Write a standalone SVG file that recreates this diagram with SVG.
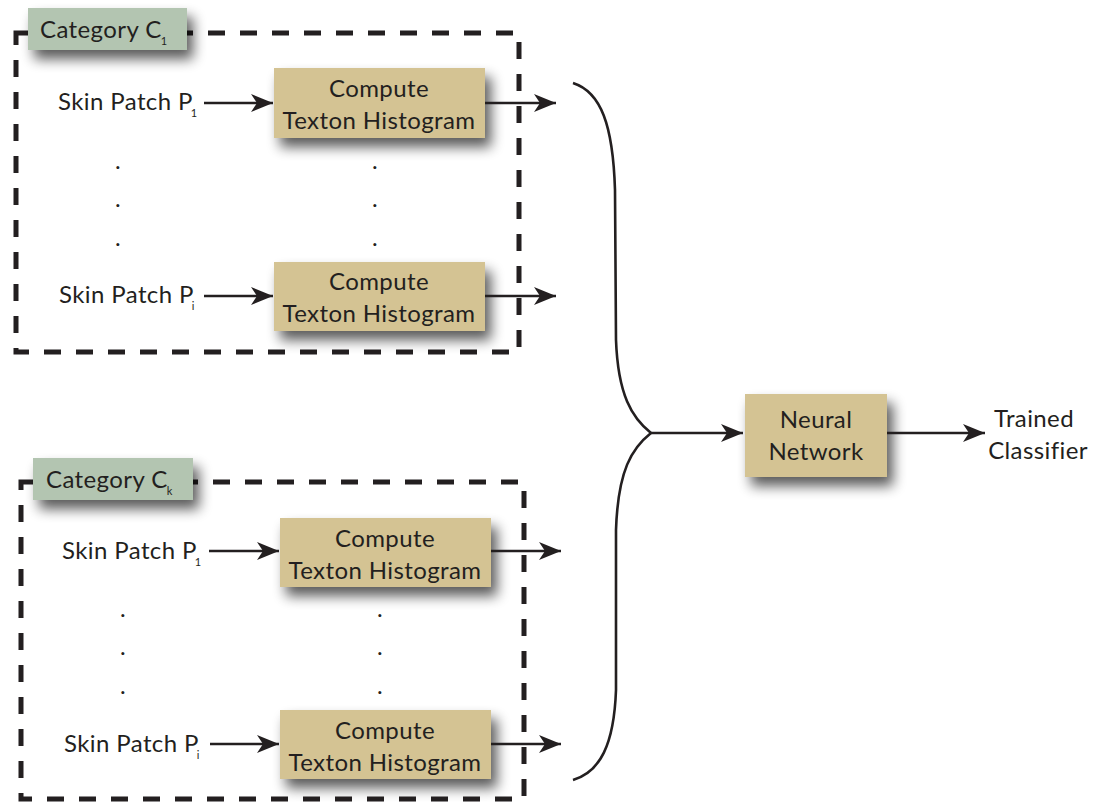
<svg xmlns="http://www.w3.org/2000/svg" width="1094" height="803" viewBox="0 0 1094 803">
  <style>
    text { font-family: Lato, "Open Sans", "Liberation Sans", sans-serif; fill: #231f20; font-size: 24px; letter-spacing: 0.4px; }
    .mid { text-anchor: middle; }
    .sub { font-size: 11px; letter-spacing: 0; }
    .box { fill: #d4c393; }
    .tag { fill: #b3c5b1; }
    .group { fill: none; stroke: #231f20; stroke-width: 5; stroke-dasharray: 17 15; }
    .wire { fill: none; stroke: #231f20; stroke-width: 2.6; }
  </style>
  <defs>
    <filter id="shadow" x="-30%" y="-40%" width="170%" height="200%">
      <feGaussianBlur in="SourceAlpha" stdDeviation="6.5"/>
      <feOffset dx="6" dy="9" result="b"/>
      <feComponentTransfer><feFuncA type="linear" slope="0.65"/></feComponentTransfer>
      <feMerge><feMergeNode/><feMergeNode in="SourceGraphic"/></feMerge>
    </filter>
    <marker id="head" markerWidth="24" markerHeight="20" refX="22" refY="9" orient="auto" markerUnits="userSpaceOnUse">
      <path d="M0,0 L22,9 L0,18 L6,9 Z" fill="#231f20"/>
    </marker>
  </defs>

  <rect width="1094" height="803" fill="#ffffff"/>

  <!-- category groups (dashed frames) -->
  <rect class="group" x="16" y="33" width="503" height="319"/>
  <rect class="group" x="21" y="482" width="503" height="317"/>

  <!-- category C1 -->
  <g id="category-c1">
    <rect class="tag" x="28" y="8" width="159" height="42" filter="url(#shadow)"/>
    <text x="40" y="38">Category C<tspan class="sub" dx="-1" dy="7">1</tspan></text>
  </g>

  <g id="c1-patch-1">
    <text x="58" y="110">Skin Patch P<tspan class="sub" dx="-2" dy="7">1</tspan></text>
  </g>
  <g id="c1-hist-1">
    <rect class="box" x="274" y="68" width="211" height="70" filter="url(#shadow)"/>
    <text class="mid" x="379" y="97">Compute</text>
    <text class="mid" x="379" y="129">Texton Histogram</text>
  </g>

  <g id="c1-dots">
    <text class="mid" x="118" y="169">.</text>
    <text class="mid" x="118" y="207">.</text>
    <text class="mid" x="118" y="246">.</text>
    <text class="mid" x="375" y="169">.</text>
    <text class="mid" x="375" y="207">.</text>
    <text class="mid" x="375" y="246">.</text>
  </g>

  <g id="c1-patch-i">
    <text x="59" y="303">Skin Patch P<tspan class="sub" dx="-2" dy="7">i</tspan></text>
  </g>
  <g id="c1-hist-i">
    <rect class="box" x="274" y="262" width="211" height="69" filter="url(#shadow)"/>
    <text class="mid" x="379" y="290">Compute</text>
    <text class="mid" x="379" y="322">Texton Histogram</text>
  </g>

  <!-- category Ck -->
  <g id="category-ck">
    <rect class="tag" x="33" y="458" width="160" height="42" filter="url(#shadow)"/>
    <text x="46" y="488">Category C<tspan class="sub" dx="-1" dy="7">k</tspan></text>
  </g>

  <g id="ck-patch-1">
    <text x="62" y="559">Skin Patch P<tspan class="sub" dx="-2" dy="7">1</tspan></text>
  </g>
  <g id="ck-hist-1">
    <rect class="box" x="280" y="518" width="211" height="69" filter="url(#shadow)"/>
    <text class="mid" x="385" y="547">Compute</text>
    <text class="mid" x="385" y="579">Texton Histogram</text>
  </g>

  <g id="ck-dots">
    <text class="mid" x="123" y="617">.</text>
    <text class="mid" x="123" y="655">.</text>
    <text class="mid" x="123" y="694">.</text>
    <text class="mid" x="380" y="617">.</text>
    <text class="mid" x="380" y="655">.</text>
    <text class="mid" x="380" y="694">.</text>
  </g>

  <g id="ck-patch-i">
    <text x="64" y="752">Skin Patch P<tspan class="sub" dx="-2" dy="7">i</tspan></text>
  </g>
  <g id="ck-hist-i">
    <rect class="box" x="280" y="710" width="211" height="69" filter="url(#shadow)"/>
    <text class="mid" x="385" y="739">Compute</text>
    <text class="mid" x="385" y="771">Texton Histogram</text>
  </g>

  <!-- classifier -->
  <g id="neural-network">
    <rect class="box" x="745" y="394" width="142" height="83" filter="url(#shadow)"/>
    <text class="mid" x="816" y="428">Neural</text>
    <text class="mid" x="816" y="460">Network</text>
  </g>

  <g id="trained-classifier">
    <text class="mid" x="1034" y="427">Trained</text>
    <text class="mid" x="1038" y="459">Classifier</text>
  </g>

  <!-- connectors -->
  <g id="connectors">
    <line class="wire" x1="204" y1="103" x2="273" y2="103" marker-end="url(#head)"/>
    <line class="wire" x1="485" y1="103" x2="556" y2="103" marker-end="url(#head)"/>
    <line class="wire" x1="204" y1="296" x2="273" y2="296" marker-end="url(#head)"/>
    <line class="wire" x1="485" y1="296" x2="556" y2="296" marker-end="url(#head)"/>
    <line class="wire" x1="209" y1="551" x2="279" y2="551" marker-end="url(#head)"/>
    <line class="wire" x1="491" y1="551" x2="561" y2="551" marker-end="url(#head)"/>
    <line class="wire" x1="210" y1="744" x2="279" y2="744" marker-end="url(#head)"/>
    <line class="wire" x1="491" y1="744" x2="561" y2="744" marker-end="url(#head)"/>
    <!-- brace joining all histograms -->
    <path class="wire" d="M573,83 C601,92 613,125 615,190 L616,340 C618,395 632,418 651,433 C632,448 618,470 616,530 L616,690 C614,745 600,772 573,780"/>
    <line class="wire" x1="651" y1="433" x2="743" y2="433" marker-end="url(#head)"/>
    <line class="wire" x1="887" y1="433" x2="985" y2="433" marker-end="url(#head)"/>
  </g>
</svg>
